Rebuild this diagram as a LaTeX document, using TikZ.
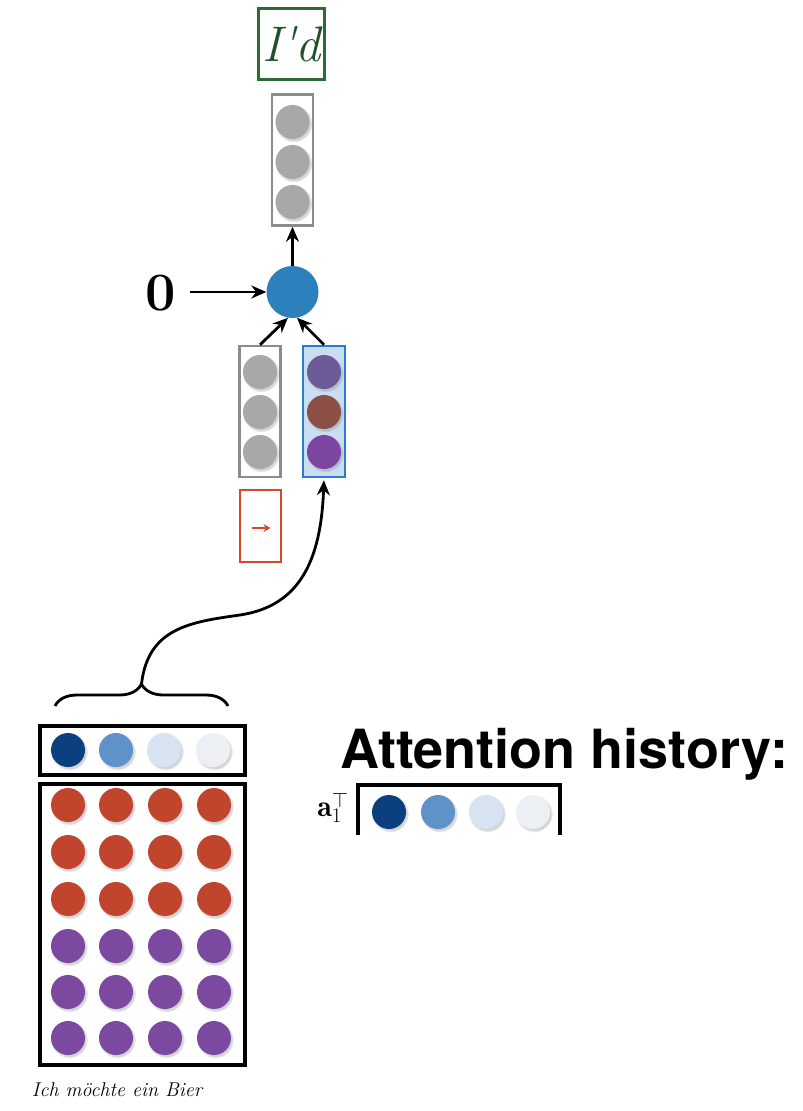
\documentclass[tikz,border=0pt]{standalone}
\usepackage{fontspec}
\newfontfamily\headfont{TeX Gyre Heros}
\usetikzlibrary{arrows.meta,decorations.pathreplacing,shadows}

\definecolor{outgreen}{HTML}{2E6B34}
\definecolor{wordgreen}{HTML}{1F5228}
\definecolor{rnnblue}{HTML}{2E80BC}
\definecolor{boxblue}{HTML}{2C7BD1}
\definecolor{fillblue}{HTML}{CADDF3}
\definecolor{cellgray}{HTML}{A8A8A8}
\definecolor{framegray}{HTML}{8C8C8C}
\definecolor{srcred}{HTML}{C1442C}
\definecolor{srcpurple}{HTML}{7B4AA0}
\definecolor{ctxtop}{HTML}{6E5A96}
\definecolor{ctxmid}{HTML}{8B4F45}
\definecolor{ctxbot}{HTML}{7C46A0}
\definecolor{attA}{HTML}{0C3F80}
\definecolor{attB}{HTML}{5E92C9}
\definecolor{attC}{HTML}{D7E3F0}
\definecolor{attD}{HTML}{ECF0F5}
\definecolor{stopred}{HTML}{D6492C}

\tikzset{
  unit/.style={circle, minimum size=34pt, inner sep=0pt, fill=#1,
    circular drop shadow={shadow xshift=1.2pt, shadow yshift=-1.6pt, opacity=0.35}},
  column/.style={draw=framegray, line width=2.5pt, minimum width=41pt, minimum height=131pt, inner sep=0pt},
  frame/.style={draw=black, line width=4pt, inner sep=0pt},
  link/.style={line width=2.8pt, -{Stealth[length=15pt, width=13pt]}},
}

\begin{document}
\begin{tikzpicture}[x=1pt, y=-1pt]
\useasboundingbox (0,0) rectangle (803,1111);

% predicted output word
\node[draw=outgreen, line width=2.8pt, minimum width=66pt, minimum height=71pt, inner sep=0pt,
      text=wordgreen] (word) at (291.5,44) {\fontsize{50}{50}\selectfont\itshape I\textquotesingle d};

% output vector
\node[column] (outcol) at (292.5,160) {};
\foreach \i/\y in {1/122, 2/162, 3/202}
  \node[unit=cellgray] (out\i) at (292.5,\y) {};

% recurrent unit and initial state
\node[circle, fill=rnnblue, minimum size=52pt, inner sep=0pt] (rnn) at (292.5,292) {};
\node (zero) at (161,293) {\fontsize{54}{54}\selectfont\bfseries 0};
\coordinate (zstart) at (190,292);
\draw[link] (zstart) -- (rnn.west);
\draw[link] (rnn.north) -- (outcol.south);

% previous hidden input and context vector
\node[column] (hcol) at (260,411.5) {};
\foreach \i/\y in {1/372, 2/412, 3/452}
  \node[unit=cellgray] (h\i) at (260,\y) {};
\node[column, draw=boxblue, fill=fillblue, minimum width=42pt] (ctx) at (324,411.5) {};
\node[unit=ctxtop] (c1) at (324,372) {};
\node[unit=ctxmid] (c2) at (324,412) {};
\node[unit=ctxbot] (c3) at (324,452) {};
\draw[link] (hcol.north) -- (rnn.-100);
\draw[link] (ctx.north) -- (rnn.-80);

% start symbol: a small red arrow in a red box
\node[draw=stopred, line width=2.4pt, minimum width=41pt, minimum height=72pt, inner sep=0pt] (start) at (260.5,526) {};
\draw[stopred, line width=2pt, -{Stealth[length=7pt, width=8pt]}]
  ([xshift=-9pt, yshift=-2pt]start.center) -- ([xshift=10pt, yshift=-2pt]start.center);

% attention weights over the source
\node[frame, minimum width=205pt, minimum height=49pt] (attrow) at (142.5,750.5) {};
\foreach \i/\x/\c in {1/68/attA, 2/116/attB, 3/164/attC, 4/213/attD}
  \node[unit=\c] (a\i) at (\x,750) {};

% brace and link to the context vector
\draw[line width=2.8pt, decorate, decoration={brace, amplitude=22pt}]
  (55,706) -- (228,706);
\coordinate (tip) at (141.5,684);
\draw[link, shorten >=2pt] (tip) .. controls (148,628) and (190,622) .. (240,615)
  .. controls (300,606) and (321,560) .. (ctx.south);

% source annotations
\node[frame, minimum width=205pt, minimum height=281pt] (enc) at (142.5,924.5) {};
\foreach \r/\y/\c in {1/805/srcred, 2/852/srcred, 3/899/srcred,
                      4/946/srcpurple, 5/992/srcpurple, 6/1038/srcpurple}
  \foreach \k/\x in {1/68, 2/116, 3/165, 4/214}
    \node[unit=\c] (s\r\k) at (\x,\y) {};
\node (src) at (117,1090) {\fontsize{20}{20}\selectfont\itshape Ich möchte ein Bier};

% attention history
\node[anchor=base west, inner sep=0pt] (hist) at (340,768)
  {\headfont\bfseries\fontsize{54}{54}\selectfont Attention history:};
\node (alabel) at (333,808) {\fontsize{30}{30}\selectfont$\mathbf{a}_1^\top$};
\draw[line width=4pt] (358,835) |- (560,785) -- (560,835);
\foreach \i/\x/\c in {1/389/attA, 2/438/attB, 3/486/attC, 4/533/attD}
  \node[unit=\c] (h1a\i) at (\x,812) {};

\end{tikzpicture}
\end{document}
